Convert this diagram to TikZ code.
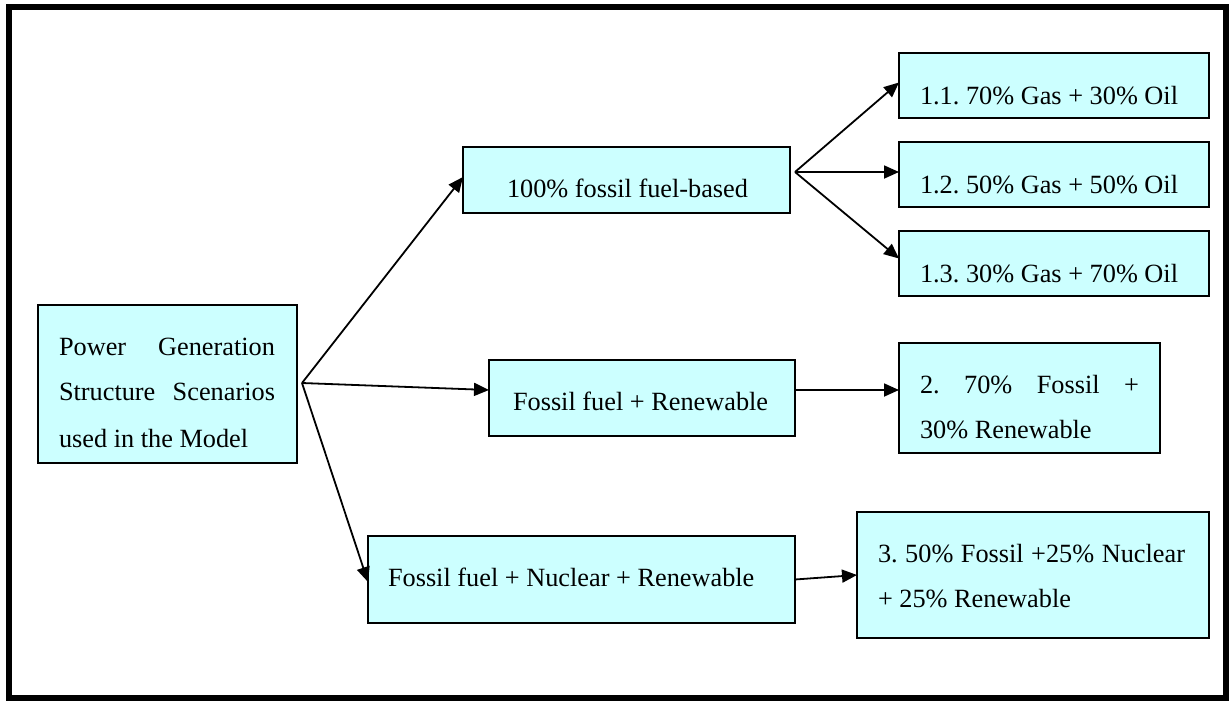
\documentclass[tikz,border=0pt]{standalone}
\usepackage{fontspec}
\setmainfont{Liberation Serif}
\usetikzlibrary{arrows.meta}
\definecolor{boxfill}{RGB}{204,255,255}
\frenchspacing
\begin{document}
\begin{tikzpicture}[x=1pt,y=-1pt,
  box/.style={draw=black, line width=1.6pt, fill=boxfill, inner sep=0pt, outer sep=0pt, anchor=north west, rectangle},
  tx/.style={anchor=base west, inner sep=0pt, outer sep=0pt, font=\fontsize{26.3}{30}\selectfont},
  arr/.style={line width=1.8pt, -{Triangle[length=15pt,width=13pt]}}]
\useasboundingbox (0,0) rectangle (1231,704);
\draw[line width=6pt] (9,7) rectangle (1226,698);
% boxes
\node[box, minimum width=259pt, minimum height=158pt] (pg) at (38,305) {};
\node[box, minimum width=327pt, minimum height=66pt] (fossil) at (463,147) {};
\node[box, minimum width=306pt, minimum height=76pt] (fr) at (489,360) {};
\node[box, minimum width=427pt, minimum height=87pt] (nuc) at (368,536) {};
\node[box, minimum width=310pt, minimum height=65pt] (b11) at (899,53) {};
\node[box, minimum width=310pt, minimum height=65pt] (b12) at (899,142) {};
\node[box, minimum width=310pt, minimum height=65pt] (b13) at (899,231) {};
\node[box, minimum width=261pt, minimum height=110pt] (b2) at (899,343) {};
\node[box, minimum width=352pt, minimum height=126pt] (b3) at (857,512) {};
% texts
\node[tx] (pgt1) at (59,355) {\makebox[216pt][s]{Power Generation}};
\node[tx] (pgt2) at (59,400) {\makebox[216pt][s]{Structure Scenarios}};
\node[tx] (pgt3) at (59,447) {used in the Model};
\node[tx] (fossilt) at (507,197) {100\% fossil fuel-based};
\node[tx] (frt) at (513,410) {Fossil fuel + Renewable};
\node[tx] (nuct) at (388,586) {Fossil fuel + Nuclear + Renewable};
\node[tx] (b11t) at (920,104) {1.1. 70\% Gas + 30\% Oil};
\node[tx] (b12t) at (920,193) {1.2. 50\% Gas + 50\% Oil};
\node[tx] (b13t) at (920,282) {1.3. 30\% Gas + 70\% Oil};
\node[tx] (b2t1) at (920,393) {\makebox[219pt][s]{2. 70\% Fossil +}};
\node[tx] (b2t2) at (920,438) {30\% Renewable};
\node[tx] (b3t1) at (878,562) {\makebox[307pt][s]{3. 50\% Fossil +25\% Nuclear}};
\node[tx] (b3t2) at (878,607) {+ 25\% Renewable};
% connectors
\coordinate (f1) at (302,383);
\coordinate (f2) at (795,172);
\draw[arr] (f1) -- ([yshift=3pt]fossil.west);
\draw[arr] (f1) -- ([yshift=8pt]fr.west);
\draw[arr] (f1) -- ([yshift=-2.5pt]nuc.west);
\draw[arr] (f2) -- ([yshift=3pt]b11.west);
\draw[arr] (f2) -- (f2 -| b12.west);
\draw[arr] (f2) -- ([yshift=5pt]b13.west);
\draw[arr] ([yshift=8pt]fr.east) -- ([yshift=8pt]b2.west);
\draw[arr] (nuc.east) -- (b3.west);
\end{tikzpicture}
\end{document}
